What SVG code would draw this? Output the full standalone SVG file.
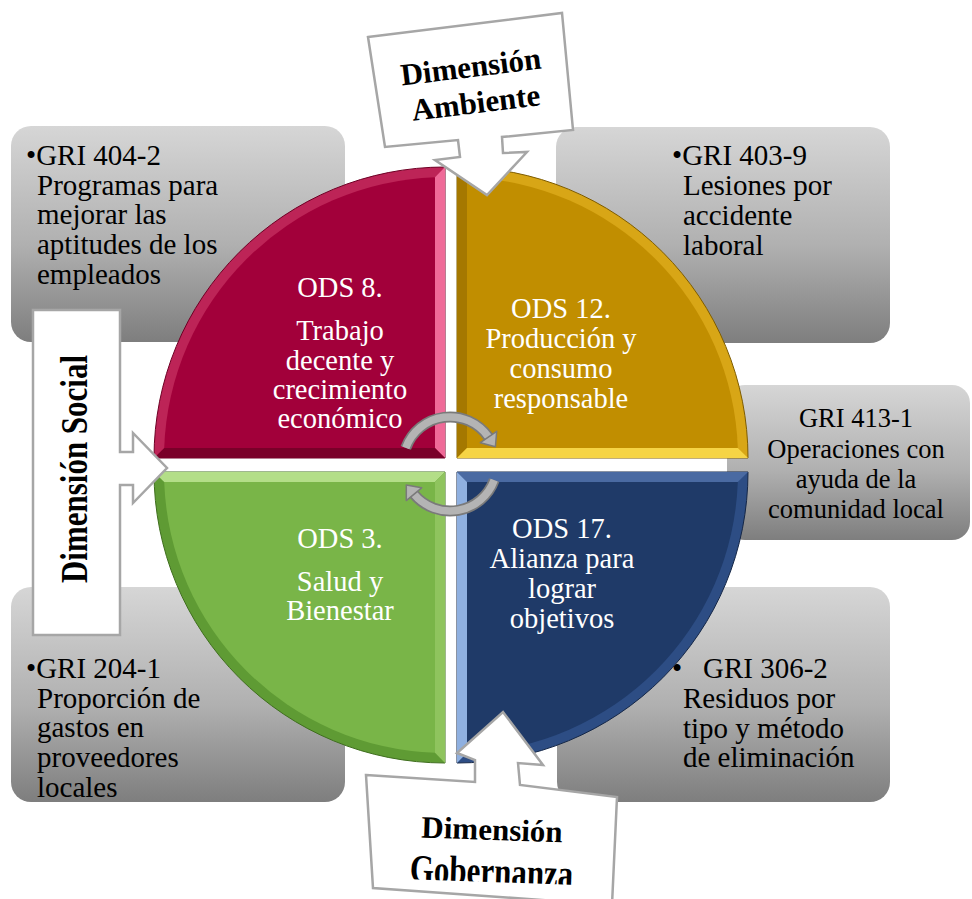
<svg xmlns="http://www.w3.org/2000/svg" width="972" height="899" viewBox="0 0 972 899">
<defs>
<linearGradient id="gray" x1="0" y1="0" x2="0" y2="1">
<stop offset="0" stop-color="#d6d6d6"/>
<stop offset="0.55" stop-color="#b0b0b0"/>
<stop offset="1" stop-color="#7e7e7e"/>
</linearGradient>
<clipPath id="clipGob"><rect x="340" y="760" width="300" height="122"/></clipPath>
</defs>
<style>
.box{fill:url(#gray);}
.gt{font-family:"Liberation Serif","Times New Roman",serif;font-size:29px;fill:#000;}
.gc{font-family:"Liberation Serif","Times New Roman",serif;font-size:26.5px;fill:#000;text-anchor:middle;}
.ot{font-family:"Liberation Serif","Times New Roman",serif;font-size:28.5px;fill:#fff;text-anchor:middle;}
.call{fill:#fff;stroke:#a6a6a6;stroke-width:2.5;stroke-linejoin:miter;}
.ct{font-family:"Liberation Serif","Times New Roman",serif;font-size:31px;font-weight:bold;fill:#000;text-anchor:middle;}
.arcO{fill:none;stroke:#7a7a7a;stroke-width:11;}
.arcI{fill:none;stroke:#b4b4b4;stroke-width:7.5;}
.head{fill:#b4b4b4;stroke:#7a7a7a;stroke-width:1.5;stroke-linejoin:round;}
</style>

<g id="box-gri404">
<rect class="box" x="11" y="126" width="334" height="216" rx="20"/>
<text class="gt"><tspan x="26" y="165">•GRI 404-2</tspan><tspan x="37" y="195">Programas para</tspan><tspan x="37" y="224">mejorar las</tspan><tspan x="37" y="254">aptitudes de los</tspan><tspan x="37" y="284">empleados</tspan></text>
</g>
<g id="box-gri403">
<rect class="box" x="556" y="127" width="334" height="216" rx="20"/>
<text class="gt"><tspan x="672" y="165">•GRI 403-9</tspan><tspan x="683" y="195">Lesiones por</tspan><tspan x="683" y="225">accidente</tspan><tspan x="683" y="255">laboral</tspan></text>
</g>
<g id="box-gri413">
<rect class="box" x="727" y="385" width="243" height="155" rx="18"/>
<text class="gc"><tspan x="856" y="427">GRI 413-1</tspan><tspan x="856" y="458">Operaciones con</tspan><tspan x="856" y="488">ayuda de la</tspan><tspan x="856" y="518">comunidad local</tspan></text>
</g>
<g id="box-gri204">
<rect class="box" x="11" y="587" width="334" height="215" rx="20"/>
<text class="gt"><tspan x="26" y="678">•GRI 204-1</tspan><tspan x="37" y="708">Proporción de</tspan><tspan x="37" y="737">gastos en</tspan><tspan x="37" y="767">proveedores</tspan><tspan x="37" y="797">locales</tspan></text>
</g>
<g id="box-gri306">
<rect class="box" x="557" y="587" width="333" height="215" rx="20"/>
<text class="gt"><tspan x="672" y="678">•</tspan><tspan x="703" y="678">GRI 306-2</tspan><tspan x="683" y="708">Residuos por</tspan><tspan x="683" y="738">tipo y método</tspan><tspan x="683" y="767">de eliminación</tspan></text>
</g>

<g id="ods8">
<path d="M445,458 L445,167 A291,291 0 0 0 154,458 Z" fill="#bd2457" stroke="#6e0024" stroke-width="1"/>
<polygon points="445,167 445,458 435,448 435,177.2" fill="#ef6a98"/>
<polygon points="154,458 445,458 435,448 164.2,448" fill="#7a0029"/>
<path d="M435,448 L435,177.2 A281,281 0 0 0 164.2,448 Z" fill="#a2003a"/>
<text class="ot"><tspan x="340" y="297">ODS 8.</tspan><tspan x="340" y="340">Trabajo</tspan><tspan x="340" y="370">decente y</tspan><tspan x="340" y="399">crecimiento</tspan><tspan x="340" y="428">económico</tspan></text>
</g>
<g id="ods12">
<path d="M457,458 L457,167 A291,291 0 0 1 748,458 Z" fill="#d8a616" stroke="#7e5c00" stroke-width="1"/>
<polygon points="457,167 457,458 467,448 467,177.2" fill="#a57800"/>
<polygon points="748,458 457,458 467,448 737.8,448" fill="#f6d445"/>
<path d="M467,448 L467,177.2 A281,281 0 0 1 737.8,448 Z" fill="#c18e00"/>
<text class="ot"><tspan x="561" y="318">ODS 12.</tspan><tspan x="561" y="348">Producción y</tspan><tspan x="561" y="378">consumo</tspan><tspan x="561" y="408">responsable</tspan></text>
</g>
<g id="ods3">
<path d="M445,472 L154,472 A291,291 0 0 0 445,763 Z" fill="#5f9b34" stroke="#3f6e1e" stroke-width="1"/>
<polygon points="154,472 445,472 435,482 164.2,482" fill="#b3de88"/>
<polygon points="445,472 445,763 435,752.8 435,482" fill="#8fc45e"/>
<path d="M435,482 L164.2,482 A281,281 0 0 0 435,752.8 Z" fill="#79b548"/>
<text class="ot"><tspan x="340" y="548">ODS 3.</tspan><tspan x="340" y="591">Salud y</tspan><tspan x="340" y="620">Bienestar</tspan></text>
</g>
<g id="ods17">
<path d="M457,472 L748,472 A291,291 0 0 1 457,763 Z" fill="#2d4d84" stroke="#152747" stroke-width="1"/>
<polygon points="457,472 748,472 737.8,482 467,482" fill="#4a6aa2"/>
<polygon points="457,472 457,763 467,752.8 467,482" fill="#8fb0e0"/>
<path d="M467,482 L737.8,482 A281,281 0 0 1 467,752.8 Z" fill="#1f3a68"/>
<text class="ot"><tspan x="562" y="538">ODS 17.</tspan><tspan x="562" y="568">Alianza para</tspan><tspan x="562" y="598">lograr</tspan><tspan x="562" y="628">objetivos</tspan></text>
</g>

<g id="connectors">
<path class="arcO" d="M405.8,447.9 A47,47 0 0 1 488.5,437"/>
<path class="arcI" d="M405.8,447.9 A47,47 0 0 1 488.5,437"/>
<polygon class="head" points="496.7,431.3 495.4,446.8 480.3,442.7"/>
<path class="arcO" d="M494.2,480.1 A47,47 0 0 1 414,494.2"/>
<path class="arcI" d="M494.2,480.1 A47,47 0 0 1 414,494.2"/>
<polygon class="head" points="421.7,487.8 406.3,485 406.3,500.6"/>
</g>

<g id="dim-ambiente">
<polygon class="call" points="368,37 562,13 573,130 502,137 503,153 527,152 487,195 435,160 460,157 458,140 385,147"/>
<text class="ct" x="472" y="77" transform="rotate(-7 472 77)">Dimensión</text>
<text class="ct" x="477" y="113" transform="rotate(-7 477 113)">Ambiente</text>
</g>
<g id="dim-social">
<polygon class="call" points="33,310 120,310 120,452 133,452 133,433 167,468 133,503 133,485 120,485 120,635 33,635"/>
<text class="ct" font-size="32" transform="translate(87,469) rotate(-90) scale(1,1.2)" x="0" y="0">Dimensión Social</text>
</g>
<g id="dim-gobernanza">
<polygon class="call" points="366,775 475,782 475,760 457,753 503,712 543,765 518,763 520,785 617,797 612,905 373,888"/>
<g transform="rotate(2 492 860)">
<text class="ct" x="491" y="840">Dimensión</text>
<g clip-path="url(#clipGob)">
<text class="ct" transform="translate(492,885) scale(1,1.3)" x="0" y="0">Gobernanza</text>
</g>
</g>
</g>
</svg>
